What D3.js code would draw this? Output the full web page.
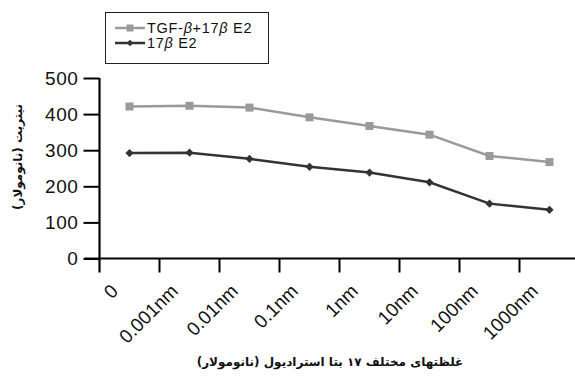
<!DOCTYPE html>
<html><head><meta charset="utf-8">
<script src="https://cdn.jsdelivr.net/npm/d3@7"></script>
<style>body{margin:0;background:#fff}svg{display:block}</style>
</head><body>
<script>
const categories = ["0","0.001nm","0.01nm","0.1nm","1nm","10nm","100nm","1000nm"];
const seriesNames = ["TGF-β+17β E2","17β E2"];
const tgfValues = [421, 423, 418, 391, 367, 343, 284, 267];
const e2Values = [292, 293, 276, 254, 238, 211, 152, 135];
const yTicks = [0,100,200,300,400,500];

const W=575,H=376;
const svg=d3.select("body").append("svg").attr("width",W).attr("height",H);
const x0=99.5, xEnd=579.5, yTop=78, yBot=258.5;
const x=d3.scaleBand().domain(categories).range([x0,xEnd]);
const y=d3.scaleLinear().domain([0,500]).range([yBot,yTop]);
const font="Liberation Sans, Arial, sans-serif";

// Y axis
const yAxis=svg.append("g").attr("transform",`translate(${x0},0)`)
 .call(d3.axisLeft(y).tickValues(yTicks).tickSize(16).tickPadding(5));
yAxis.select(".domain").remove();
yAxis.selectAll(".tick line").attr("stroke","#000").attr("stroke-width",2);
yAxis.selectAll(".tick text").attr("font-family",font).attr("font-size",19).attr("letter-spacing","0.6px").attr("fill","#111");
svg.append("line").attr("x1",x0).attr("x2",x0).attr("y1",yTop).attr("y2",yBot+14).attr("stroke","#000").attr("stroke-width",2.2);

// X axis
svg.append("line").attr("x1",x0-15).attr("x2",xEnd).attr("y1",yBot).attr("y2",yBot).attr("stroke","#000").attr("stroke-width",2.2);
const bounds=categories.slice(1).map(c=>x(c));
svg.selectAll(".xt").data(bounds).join("line").attr("x1",d=>d).attr("x2",d=>d).attr("y1",yBot).attr("y2",yBot+14).attr("stroke","#000").attr("stroke-width",2);
svg.selectAll(".xl").data(categories).join("text")
 .attr("transform",d=>`translate(${x(d)+x.bandwidth()/2-15},${yBot+29}) rotate(-45)`)
 .attr("text-anchor","end").attr("dy","0.35em")
 .attr("font-family",font).attr("font-size",19).attr("fill","#111")
 .text(d=>d);

// Lines
const cx=(i)=>x(categories[i])+x.bandwidth()/2;
const line=d3.line().x((d,i)=>cx(i)).y(d=>y(d));
svg.append("path").datum(tgfValues).attr("d",line).attr("fill","none").attr("stroke","#9a9a9a").attr("stroke-width",2.5);
svg.append("path").datum(e2Values).attr("d",line).attr("fill","none").attr("stroke","#333").attr("stroke-width",2.5);
svg.selectAll(".sq").data(tgfValues).join("rect")
 .attr("x",(d,i)=>cx(i)-4).attr("y",d=>y(d)-4)
 .attr("width",8).attr("height",8).attr("fill","#9a9a9a");
svg.selectAll(".dm").data(e2Values).join("path")
 .attr("transform",(d,i)=>`translate(${cx(i)},${y(d)}) rotate(45)`)
 .attr("d",d3.symbol().type(d3.symbolSquare).size(34)).attr("fill","#333");

// Legend
const lg=svg.append("g");
lg.append("rect").attr("x",105.5).attr("y",12.5).attr("width",163).attr("height",51).attr("fill","#fff").attr("stroke","#222").attr("stroke-width",1);
const rows=[{name:seriesNames[0],c:"#9a9a9a",m:"sq",yy:28},{name:seriesNames[1],c:"#333",m:"dm",yy:43}];
rows.forEach(r=>{
 lg.append("line").attr("x1",115).attr("x2",145).attr("y1",r.yy).attr("y2",r.yy).attr("stroke",r.c).attr("stroke-width",2.5);
 if(r.m==="sq") lg.append("rect").attr("x",126.5).attr("y",r.yy-3.5).attr("width",7).attr("height",7).attr("fill",r.c);
 else lg.append("path").attr("transform",`translate(130,${r.yy}) rotate(45)`).attr("d",d3.symbol().type(d3.symbolSquare).size(22)).attr("fill",r.c);
 const t=lg.append("text").attr("x",147).attr("y",r.yy+5).attr("font-family",font).attr("font-size",14.5).attr("letter-spacing","0.7px").attr("fill","#111");
 r.name.split(/(β)/).filter(s=>s.length).forEach(s=>{
   const ts=t.append("tspan").text(s);
   if(s==="β") ts.attr("font-style","italic");
 });
});

// Titles
svg.append("text").attr("transform","translate(22,157) rotate(-90)").attr("text-anchor","middle")
 .attr("font-family","DejaVu Sans, sans-serif").attr("font-weight","bold").attr("font-size",12).attr("direction","rtl").attr("fill","#111")
 .text("نیتریت (نانومولار)");
svg.append("text").attr("x",330).attr("y",366).attr("text-anchor","middle")
 .attr("font-family","DejaVu Sans, sans-serif").attr("font-weight","bold").attr("font-size",12).attr("direction","rtl").attr("fill","#111")
 .text("غلظتهای مختلف ۱۷ بتا استرادیول (نانومولار)");
</script>
</body></html>
